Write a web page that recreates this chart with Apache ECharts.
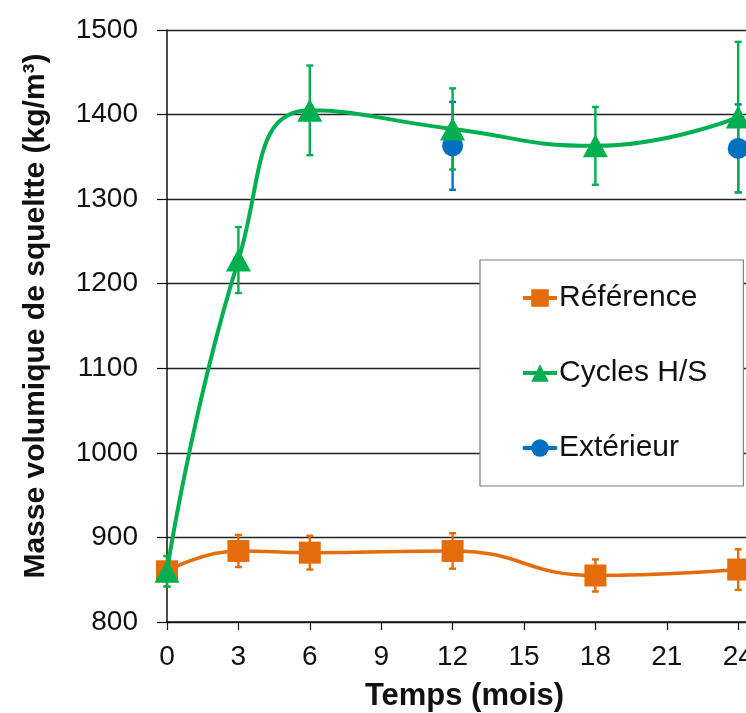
<!DOCTYPE html>
<html>
<head>
<meta charset="utf-8">
<script src="https://cdn.jsdelivr.net/npm/echarts@6/dist/echarts.min.js"></script>
<style>
html,body{margin:0;padding:0;background:#fff;}
#chart{width:746px;height:713px;}
</style>
</head>
<body>
<div id="chart"></div>
<script>
// ---- data ----
const xTicks = [0, 3, 6, 9, 12, 15, 18, 21, 24];
const months = [0, 3, 6, 12, 18, 24];
const refValues = [860, 884, 882, 884, 855, 862];
const refErrors = [18, 19, 20, 21, 19, 24];
const cycValues = [860, 1228, 1405, 1383, 1363, 1397];
const cycErrors = [18, 39, 53, 48, 46, 89];
const extMonths = [12, 18, 24];
const extValues = [1363, null, 1360];
const extErrors = [52, null, 52];
const seriesNames = ['Référence', 'Cycles H/S', 'Extérieur'];

const ORANGE = '#E46C0A', GREEN = '#00B050', BLUE = '#0070C0';

function pts(xs, vs) {
  return xs.map((x, i) => [x, vs[i] === null ? '-' : vs[i]]);
}
function errs(xs, vs, es) {
  const out = [];
  xs.forEach((x, i) => { if (vs[i] !== null) out.push([x, vs[i] - es[i], vs[i] + es[i]]); });
  return out;
}
function errorSeries(data, color, z) {
  return {
    type: 'custom', z: z, silent: true, clip: false,
    data: data,
    encode: { x: 0, y: [1, 2] },
    renderItem: function (params, api) {
      const x = api.value(0);
      const lo = api.coord([x, api.value(1)]);
      const hi = api.coord([x, api.value(2)]);
      const w = 3.5;
      const st = { stroke: color, lineWidth: 2.4 };
      return {
        type: 'group',
        children: [
          { type: 'line', shape: { x1: lo[0], y1: lo[1], x2: hi[0], y2: hi[1] }, style: st },
          { type: 'line', shape: { x1: hi[0] - w, y1: hi[1], x2: hi[0] + w, y2: hi[1] }, style: st },
          { type: 'line', shape: { x1: lo[0] - w, y1: lo[1], x2: lo[0] + w, y2: lo[1] }, style: st }
        ]
      };
    }
  };
}

const chart = echarts.init(document.getElementById('chart'), null, { renderer: 'canvas' });
const FONT = '"Liberation Sans", Arial, sans-serif';
chart.setOption({
  backgroundColor: '#ffffff',
  animation: false,
  grid: { left: 167, top: 30, width: 595, height: 592, containLabel: false, outerBoundsMode: 'none' },
  legend: {
    data: seriesNames,
    orient: 'vertical',
    left: 480, top: 260,
    backgroundColor: '#ffffff',
    borderColor: '#7f7f7f', borderWidth: 1.2,
    padding: [23, 36, 23, 41],
    itemGap: 45,
    itemWidth: 34, itemHeight: 22,
    lineStyle: { width: 4 },
    textStyle: { fontFamily: FONT, fontSize: 30, color: '#111', lineHeight: 30, padding: [0, 0, 0, -3] }
  },
  xAxis: {
    type: 'value', min: 0, max: 25, interval: 3,
    name: 'Temps (mois)', nameLocation: 'middle', nameGap: 59,
    nameTextStyle: { fontFamily: FONT, fontSize: 31, fontWeight: 'bold', color: '#111' },
    axisLine: { show: true, lineStyle: { color: '#111', width: 1.5 } },
    axisTick: { show: true, inside: false, length: 8, lineStyle: { color: '#111', width: 1.2 } },
    axisLabel: { fontFamily: FONT, fontSize: 28, color: '#111', margin: 21,
      customValues: xTicks },
    splitLine: { show: false }
  },
  yAxis: {
    type: 'value', min: 800, max: 1500, interval: 100,
    name: 'Masse volumique de squeltte (kg/m³)', nameLocation: 'middle', nameGap: 116,
    nameTextStyle: { fontFamily: FONT, fontSize: 30, fontWeight: 'bold', color: '#111', padding: [0, 0, 0, 20] },
    axisLine: { show: true, lineStyle: { color: '#111', width: 1.5 } },
    axisTick: { show: true, inside: false, length: 10, lineStyle: { color: '#111', width: 1.2 } },
    axisLabel: { fontFamily: FONT, fontSize: 28, color: '#111', margin: 29,
      formatter: function (v) { return String(v); } },
    splitLine: { show: true, lineStyle: { color: '#222', width: 1.3 } }
  },
  series: [
    errorSeries(errs(extMonths, extValues, extErrors), BLUE, 2),
    errorSeries(errs(months, refValues, refErrors), ORANGE, 3),
    errorSeries(errs(months, cycValues, cycErrors), GREEN, 3),
    {
      name: seriesNames[0], type: 'line', z: 4, clip: false,
      data: pts(months, refValues), smooth: 0.5,
      symbol: 'rect', symbolSize: 22,
      itemStyle: { color: ORANGE },
      lineStyle: { color: ORANGE, width: 3.5 }
    },
    {
      name: seriesNames[1], type: 'line', z: 5, clip: false,
      data: pts(months, cycValues), smooth: 0.5,
      symbol: 'triangle', symbolSize: [25, 23],
      itemStyle: { color: GREEN },
      lineStyle: { color: GREEN, width: 4 }
    },
    {
      name: seriesNames[2], type: 'line', z: 4, clip: false,
      data: pts(extMonths, extValues), connectNulls: false,
      symbol: 'circle', symbolSize: 21,
      itemStyle: { color: BLUE },
      lineStyle: { color: BLUE, width: 3 }
    }
  ]
});
</script>
</body>
</html>
